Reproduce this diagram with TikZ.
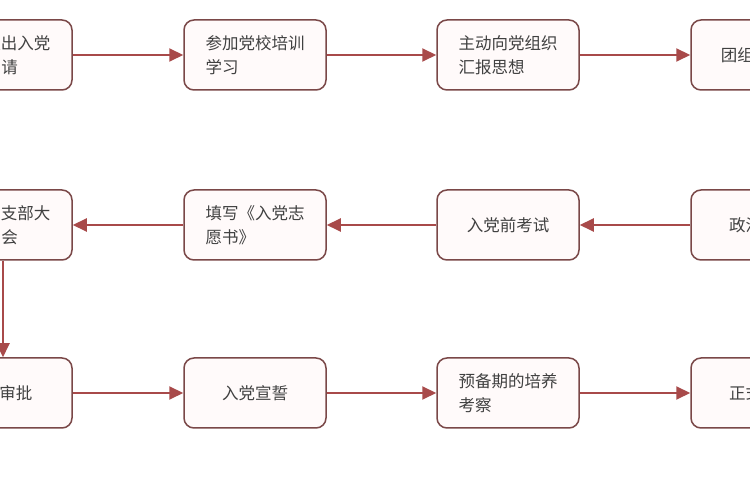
\documentclass[tikz,border=0pt]{standalone}
\usepackage{fontspec}
\newfontfamily\cjk{Noto Sans CJK SC}
\usetikzlibrary{arrows.meta}
\definecolor{bd}{HTML}{7A4848}
\definecolor{ar}{HTML}{A84A4A}
\definecolor{fl}{HTML}{FFFAFA}
\begin{document}
\begin{tikzpicture}[x=1pt,y=1pt,
  box/.style={draw=bd,line width=1.5pt,fill=fl,rounded corners=10pt,minimum width=142pt,minimum height=70pt,inner sep=0pt,font=\cjk\fontsize{16.5}{24}\selectfont,text=black!75,align=left},
  conn/.style={draw=ar,line width=2pt,-{Triangle[length=14pt,width=13pt]}}]
\useasboundingbox (0,0) rectangle (750,500);
\clip (0,0) rectangle (750,500);
\fill[white] (0,0) rectangle (750,500);
\node[box] (a1) at (1,445) {自愿提出入党\\\hspace*{50pt}请};
\node[box] (a2) at (255,445) {参加党校培训\\学习};
\node[box] (a3) at (508,445) {主动向党组织\\汇报思想};
\node[box] (a4) at (762,445) {团组织推荐};
\node[box] (b1) at (1,275) {提交党支部大\\\hspace*{50pt}会};
\node[box] (b2) at (255,275) {填写《入党志\\愿书》};
\node[box] (b3) at (508,275) {入党前考试};
\node[box] (b4) at (762,275) {政治审查};
\node[box] (c1) at (1,107) {上级党委审批\hspace*{36pt}};
\node[box] (c2) at (255,107) {入党宣誓};
\node[box] (c3) at (508,107) {预备期的培养\\考察};
\node[box] (c4) at (762,107) {正式入党};
\draw[conn] (a1) -- (a2);
\draw[conn] (a2) -- (a3);
\draw[conn] (a3) -- (a4);
\draw[conn] (b4) -- (b3);
\draw[conn] (b3) -- (b2);
\draw[conn] (b2) -- (b1);
\draw[conn] (b1.south -| 3,0) -- (c1.north -| 3,0);
\draw[conn] (c1) -- (c2);
\draw[conn] (c2) -- (c3);
\draw[conn] (c3) -- (c4);
\end{tikzpicture}
\end{document}
